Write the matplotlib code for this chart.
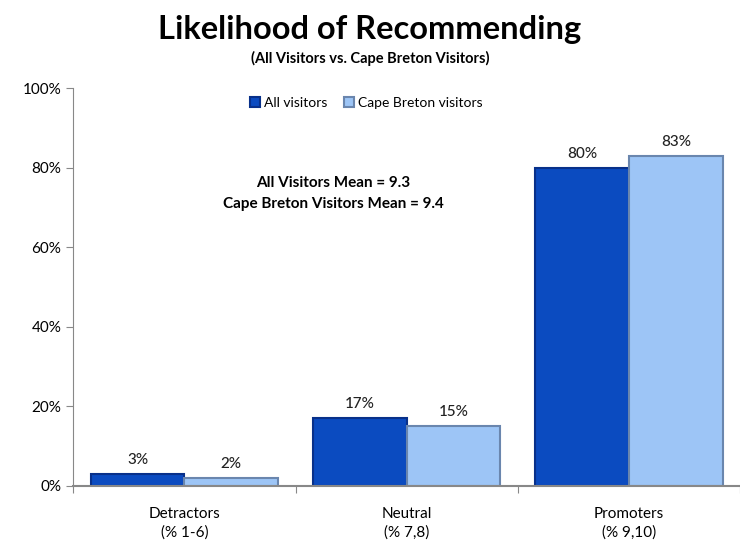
import matplotlib.pyplot as plt
import numpy as np
from matplotlib.ticker import PercentFormatter

plt.rcParams['font.family'] = ['Lato', 'DejaVu Sans']

categories = ['Detractors\n(% 1-6)', 'Neutral\n(% 7,8)', 'Promoters\n(% 9,10)']
all_visitors = [3, 17, 80]
cape_breton = [2, 15, 83]
series_names = ['All visitors', 'Cape Breton visitors']

fig = plt.figure(figsize=(7.4, 5.44), dpi=100)
ax = fig.add_axes([0.099, 0.107, 0.901, 0.731])

x = np.arange(len(categories))
w = 0.422
b1 = ax.bar(x - w / 2, all_visitors, w, color='#0B4BC0', edgecolor='#08308A',
            linewidth=1.5, label=series_names[0])
b2 = ax.bar(x + w / 2, cape_breton, w, color='#9DC5F6', edgecolor='#6A86AE',
            linewidth=1.5, label=series_names[1])

for bars, vals in ((b1, all_visitors), (b2, cape_breton)):
    for r, v in zip(bars, vals):
        ax.text(r.get_x() + r.get_width() / 2, v + 1.8, f'{v}%', ha='center',
                va='bottom', fontsize=11, color='#222222', fontweight='medium')

ax.set_ylim(0, 100)
ax.set_xlim(-0.5, 2.46)
ax.set_yticks(range(0, 101, 20))
ax.yaxis.set_major_formatter(PercentFormatter(decimals=0))
ax.set_xticks([-0.5, 0.5, 1.5, 2.5], minor=False)
ax.set_xticklabels([])
ax.set_xticks(x, minor=True)
ax.set_xticklabels(categories, minor=True, fontsize=11, linespacing=1.45)
ax.tick_params(axis='x', which='minor', length=0, pad=15)
ax.tick_params(axis='x', which='major', length=5, color='#888888')
ax.tick_params(axis='y', labelsize=11, length=5, color='#888888')

for s in ('top', 'right'):
    ax.spines[s].set_visible(False)
ax.spines['left'].set_color('#888888')
ax.spines['bottom'].set_color('#888888')
ax.spines['bottom'].set_linewidth(1.5)

ax.legend(loc='upper center', bbox_to_anchor=(0.44, 1.01), ncol=2, frameon=False,
          fontsize=10, handlelength=0.7, handleheight=0.7, columnspacing=1.2,
          handletextpad=0.3)

ax.text(0.39, 0.735, 'All Visitors Mean = 9.3\nCape Breton Visitors Mean = 9.4',
        transform=ax.transAxes, ha='center', va='center', fontsize=11,
        fontweight='bold', linespacing=1.6)

fig.text(0.5, 0.945, 'Likelihood of Recommending', ha='center', va='center',
         fontsize=23.5, fontweight='bold')
fig.text(0.5, 0.893, '(All Visitors vs. Cape Breton Visitors)', ha='center',
         va='center', fontsize=10.5, fontweight='bold')

fig.savefig('out.png', dpi=100)
